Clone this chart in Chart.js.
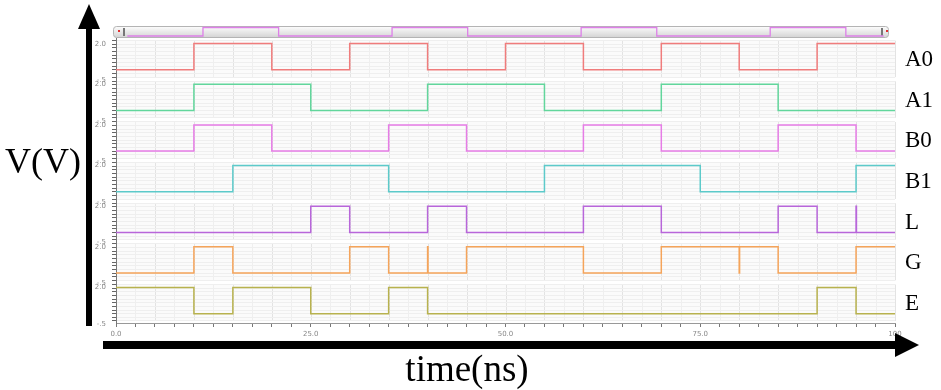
<!DOCTYPE html>
<html>
<head>
<meta charset="utf-8">
<script src="https://cdn.jsdelivr.net/npm/chart.js@4.4.0/dist/chart.umd.min.js"></script>
<style>
  body { margin: 0; background: #fff; }
  canvas { display: block; }
</style>
</head>
<body>
<canvas id="waveChart" width="941" height="390"></canvas>
<script>
// signal names, top to bottom
let names = ["A0", "A1", "B0", "B1", "L", "G", "E"];
let colors = ["#f07c7c", "#62d69c", "#e67ce6", "#5ccaca", "#b866da", "#f5a45a", "#b8b24e"];

// logic levels (V)
let lowV = 0;
let highV = 1.8;
let startLevels = [0, 0, 0, 0, 0, 0, 1.8];

// switching times in ns (two close edges = glitch)
let a0Edges = [10, 20, 30, 40, 50, 60, 70, 80, 90];
let a1Edges = [10, 25, 40, 55, 70, 85];
let b0Edges = [10, 20, 35, 45, 60, 70, 85, 95];
let b1Edges = [15, 35, 55, 75, 95];
let lEdges = [25, 30, 40, 45, 60, 70, 85, 90, 95, 95.05];
let gEdges = [10, 15, 30, 35, 40, 40.05, 45, 60, 70, 80, 80.05, 85, 95];
let eEdges = [10, 15, 25, 35, 40, 90, 95];
let allEdges = [a0Edges, a1Edges, b0Edges, b1Edges, lEdges, gEdges, eEdges];

// tick labels
let xTickValues = [0, 25, 50, 75, 100];
let xTickLabels = ["0.0", "25.0", "50.0", "75.0", "100"];
let yTickValues = [-0.5, 2.0];
let yTickLabels = ["-.5", "2.0"];

function toPoints(edges, start) {
    let level = start;
    let pts = [{x: 0, y: level}];
    for (let t of edges) {
        level = (level === highV) ? lowV : highV;
        pts.push({x: t, y: level});
    }
    pts.push({x: 100, y: level});
    return pts;
}

let rowIds = names.map(n => "y" + n);

// datasets
let datasets = names.map((n, i) => ({
    label: n,
    data: toPoints(allEdges[i], startLevels[i]),
    xAxisID: "x",
    yAxisID: rowIds[i],
    borderColor: colors[i],
    borderWidth: 1.5,
    pointRadius: 0,
    stepped: true,
    fill: false
}));

// small overview strip on top (B0)
datasets.push({
    label: "overview",
    data: toPoints(b0Edges, 0),
    xAxisID: "x2",
    yAxisID: "yStrip",
    borderColor: "#dd80e8",
    borderWidth: 1.3,
    pointRadius: 0,
    stepped: true,
    fill: false
});

function rowAxis() {
    return {
        type: "linear",
        position: "left",
        stack: "rows",
        stackWeight: 40.6,
        min: -0.64,
        max: 2.15,
        afterFit: (a) => { a.width = 22; },
        afterBuildTicks: (a) => {
            let t = [];
            for (let v = -0.5; v <= 2.0001; v += 0.25) t.push({value: v});
            a.ticks = t;
        },
        ticks: {
            autoSkip: false,
            padding: 6,
            labelOffset: 3,
            color: "#888",
            font: { size: 7, family: "DejaVu Sans" },
            callback: (v) => {
                for (let k = 0; k < yTickValues.length; k++) {
                    if (Math.abs(v - yTickValues[k]) < 0.001) return yTickLabels[k];
                }
                return "";
            }
        },
        grid: { color: "#efefef", tickColor: "#666", tickLength: 4 },
        border: { color: "#777" }
    };
}

let scales = {
    x: {
        type: "linear",
        position: "bottom",
        min: 0,
        max: 100,
        afterFit: (a) => { a.height = 18; },
        afterBuildTicks: (a) => {
            let t = [];
            for (let v = 0; v <= 100; v += 2.5) t.push({value: v});
            a.ticks = t;
        },
        ticks: {
            autoSkip: false,
            maxRotation: 0,
            padding: 3,
            color: "#888",
            font: { size: 7, family: "DejaVu Sans" },
            callback: (v) => {
                let k = xTickValues.indexOf(v);
                return k >= 0 ? xTickLabels[k] : "";
            }
        },
        grid: { drawOnChartArea: false, tickColor: "#777", tickLength: 4 },
        border: { color: "#999" }
    },
    x2: { type: "linear", min: -1.5, max: 101.5, display: false }
};

// bottom row first
for (let i = rowIds.length - 1; i >= 0; i--) scales[rowIds[i]] = rowAxis();
scales.yStrip = {
    type: "linear",
    position: "left",
    stack: "rows",
    stackWeight: 12.5,
    min: -0.53,
    max: 2.12,
    afterFit: (a) => { a.width = 22; },
    ticks: { display: false },
    grid: { display: false },
    border: { display: false }
};

// panels, vertical grid and the overview bar
let panelPlugin = {
    id: "panels",
    beforeDraw(chart) {
        let ctx = chart.ctx;
        let xs = chart.scales.x;
        let left = chart.chartArea.left, right = chart.chartArea.right;
        ctx.save();
        for (let id of rowIds) {
            let ys = chart.scales[id];
            let top = ys.getPixelForValue(2.0), bot = ys.getPixelForValue(-0.5);
            ctx.fillStyle = "#fbfbfb";
            ctx.fillRect(left, top, right - left, bot - top);
            for (let v = 0; v <= 100; v += 2.5) {
                let px = Math.round(xs.getPixelForValue(v)) + 0.5;
                ctx.strokeStyle = (v % 5 === 0) ? "#e3e3e3" : "#efefef";
                ctx.lineWidth = 1;
                ctx.beginPath();
                ctx.moveTo(px, top);
                ctx.lineTo(px, bot);
                ctx.stroke();
            }
        }
        // overview bar
        let g = ctx.createLinearGradient(0, 27, 0, 38);
        g.addColorStop(0, "#fbfbfb");
        g.addColorStop(1, "#d2d2d2");
        ctx.fillStyle = g;
        ctx.strokeStyle = "#b4b4b4";
        ctx.beginPath();
        ctx.roundRect(113.5, 26.5, 775, 11, 3);
        ctx.fill();
        ctx.stroke();
        ctx.fillStyle = "#777";
        ctx.fillRect(123, 28, 2, 8);
        ctx.fillRect(881, 28, 2, 8);
        ctx.fillStyle = "#e03030";
        ctx.fillRect(118, 30, 2, 2);
        ctx.fillRect(886, 30, 2, 2);
        ctx.restore();
    },
    afterDraw(chart) {
        let ctx = chart.ctx;
        ctx.save();
        ctx.fillStyle = "#000";
        // y arrow
        ctx.fillRect(86, 25, 6, 301);
        ctx.beginPath();
        ctx.moveTo(89, 4);
        ctx.lineTo(78, 29);
        ctx.lineTo(100, 29);
        ctx.closePath();
        ctx.fill();
        // x arrow
        ctx.fillRect(103, 341, 796, 8);
        ctx.beginPath();
        ctx.moveTo(919, 345);
        ctx.lineTo(895, 333);
        ctx.lineTo(895, 357);
        ctx.closePath();
        ctx.fill();
        // axis names
        ctx.font = '36px "Liberation Serif"';
        ctx.textAlign = "left";
        ctx.textBaseline = "alphabetic";
        ctx.fillText("V(V)", 5, 173);
        ctx.font = '37px "Liberation Serif"';
        ctx.textAlign = "center";
        ctx.fillText("time(ns)", 467, 381);
        // row names
        ctx.font = '23px "Liberation Serif"';
        ctx.textAlign = "left";
        ctx.textBaseline = "middle";
        names.forEach((n, i) => {
            let ys = chart.scales[rowIds[i]];
            ctx.fillText(n, 905, ys.getPixelForValue(0.75) + 1);
        });
        ctx.restore();
    }
};

let ctx = document.getElementById("waveChart").getContext("2d");
let chart = new Chart(ctx, {
    type: "line",
    data: { datasets: datasets },
    options: {
        responsive: false,
        animation: false,
        layout: { padding: { left: 94, right: 46, top: 26, bottom: 49 } },
        plugins: { legend: { display: false }, tooltip: { enabled: false } },
        scales: scales
    },
    plugins: [panelPlugin]
});
</script>
</body>
</html>
